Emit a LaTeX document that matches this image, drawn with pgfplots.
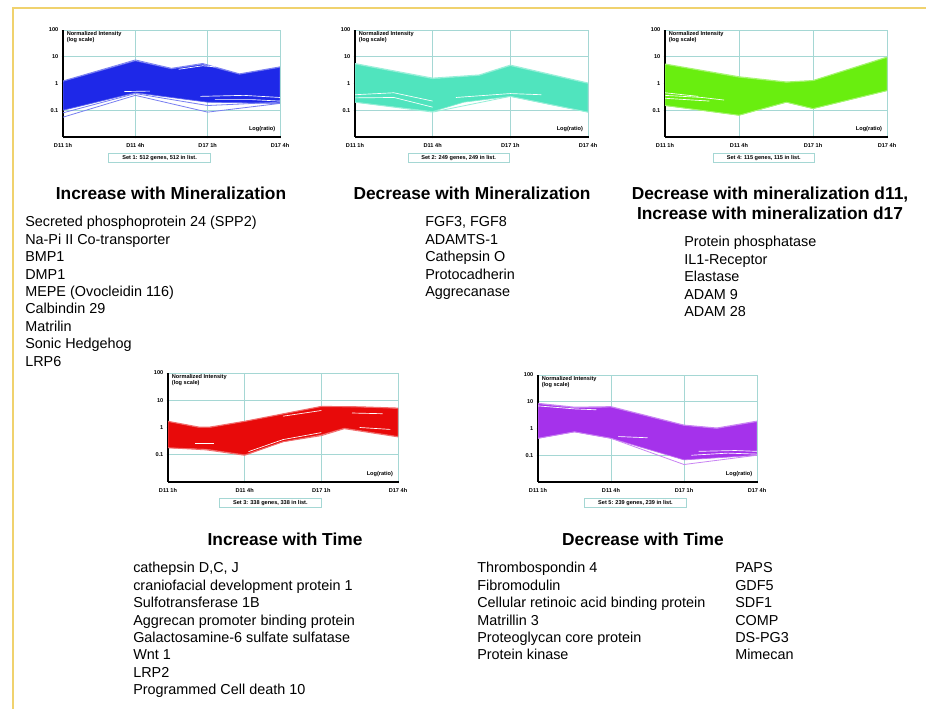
\documentclass[border=0pt]{standalone}
\usepackage{fontspec}
\setmainfont{Liberation Sans}
\usepackage{pgfplots}
\pgfplotsset{compat=1.18}
\definecolor{gridc}{RGB}{165,215,212}
\definecolor{borderc}{RGB}{240,210,110}
\definecolor{cblue}{RGB}{30,40,232}
\definecolor{caqua}{RGB}{80,228,190}
\definecolor{cgreen}{RGB}{105,238,15}
\definecolor{cred}{RGB}{232,10,10}
\definecolor{cpurple}{RGB}{165,50,235}
\newcommand\tinyfont{\fontsize{4.2}{4.7}\selectfont\bfseries}
\newcommand\listfont{\fontsize{10.8}{13}\selectfont}
\newcommand\titlefont{\fontsize{13}{15}\selectfont\bfseries}
\pgfkeys{/pgf/number format/assume math mode=true}
\pgfplotsset{
  every axis/.append style={
    scale only axis, ymode=log, ymin=0.01, ymax=100, xmin=0, xmax=3,
    clip mode=individual,
    axis lines=left, axis line style={black, line width=1.1pt, -},
    xtick={0,1,2,3}, xticklabels={D11 1h, D11 4h, D17 1h, D17 4h},
    ytick={0.1,1,10,100}, yticklabels={0.1,1,10,100},
    yminorticks=false,
    grid=major, major grid style={gridc, line width=0.6pt},
    tick style={black, line width=0.5pt}, major tick length=2pt,
    tick label style={font=\tinyfont},
    xticklabel style={yshift=0pt},
    yticklabel style={xshift=1pt},
  },
  cband/.style={fill=#1, draw=#1!70!white, line width=0.5pt},
  cedge/.style={draw=#1!60!white, line width=0.6pt, mark=none},
  cwl/.style={draw=white, line width=0.5pt, mark=none},
}
\newcommand\chartdeco[1]{%
  \node[anchor=north west, align=left, font=\tinyfont, inner sep=1pt] at (rel axis cs:0.01,1) {Normalized Intensity\\(log scale)};
  \node[anchor=south east, font=\tinyfont, inner sep=1pt] at (rel axis cs:0.985,0.03) {Log(ratio)};
  \node[draw=gridc, line width=0.6pt, fill=white, font=\tinyfont, minimum width=76pt, minimum height=7pt, inner sep=1pt, anchor=north] at (rel axis cs:0.445,-0.145) {#1};
}
\newcommand\lst[3]{%
  \foreach \t [count=\i from 0] in {#3} {\node[anchor=base west, inner sep=0, font=\listfont] at (#1, {709-#2-\i*17.4}) {\t};}}
\begin{document}
\begin{tikzpicture}
\begin{scope}[x=0.75pt,y=0.75pt]
\path[use as bounding box] (0,0) rectangle (926,709);
\fill[white] (0,0) rectangle (926,709);
\draw[borderc, line width=2pt] (13,0) -- (13,701) -- (926,701);
\end{scope}

% ---- Plot 1: blue
\begin{axis}[width=162.75pt, height=80.25pt, at={(47.25pt,429pt)}, anchor=south west]
\addplot[cband=cblue] coordinates {(0,1.2) (1,7) (1.5,3.5) (1.93,5.2) (2.44,2.2) (3,4) (3,0.18) (2.5,0.19) (2,0.2) (1.5,0.3) (1,0.45) (0,0.1)} -- cycle;
\addplot[cedge=cblue] coordinates {(0,0.055) (1,0.36) (2,0.085) (3,0.18)};
\addplot[cedge=cblue] coordinates {(0,0.08) (1,0.42) (2,0.15) (3,0.2)};
\addplot[cedge=cblue] coordinates {(0,1.25) (1,7.6) (1.5,3.7) (1.93,5.6) (2.44,2.3) (3,4.2)};
\addplot[cwl] coordinates {(0.85,0.5) (1.2,0.52)};
\addplot[cwl] coordinates {(1.9,0.33) (2.5,0.36) (3,0.3)};
\addplot[cwl] coordinates {(2.1,0.25) (2.6,0.25) (3,0.22)};
\addplot[cwl] coordinates {(1.6,3.4) (1.93,4.6) (2.1,4.2)};
\chartdeco{Set 1: 512 genes, 512 in list.}
\end{axis}

% ---- Plot 2: aqua
\begin{axis}[width=174.75pt, height=80.25pt, at={(266.25pt,429pt)}, anchor=south west]
\addplot[cband=caqua] coordinates {(0,5.3) (1,1.5) (1.6,2.0) (2,4.6) (3,1.0) (3,0.085) (2,0.33) (1.4,0.2) (1,0.09) (0,0.2)} -- cycle;
\addplot[cedge=caqua] coordinates {(0,5.6) (1,1.6) (1.6,2.1) (2,4.9) (3,1.05)};
\addplot[cedge=caqua] coordinates {(0,0.2) (1,0.085) (2,0.33) (3,0.085)};
\addplot[cwl] coordinates {(0,0.38) (0.5,0.45) (1,0.22)};
\addplot[cwl] coordinates {(0,0.29) (0.5,0.3) (1,0.13)};
\addplot[cwl] coordinates {(1.3,0.3) (2,0.42) (2.4,0.38)};
\chartdeco{Set 2: 249 genes, 249 in list.}
\end{axis}

% ---- Plot 3: green
\begin{axis}[width=166.5pt, height=80.25pt, at={(498.75pt,429pt)}, anchor=south west]
\addplot[cband=cgreen] coordinates {(0,5.2) (1,1.7) (1.64,1.1) (2,1.26) (3,9.4) (3,0.54) (2,0.115) (1.64,0.2) (1,0.065) (0,0.15)} -- cycle;
\addplot[cedge=cgreen] coordinates {(0,5.4) (1,1.8) (1.64,1.15) (2,1.3) (3,9.8)};
\addplot[cedge=cgreen] coordinates {(0,0.15) (1,0.065) (1.64,0.2) (2,0.115) (3,0.54)};
\addplot[cwl] coordinates {(0,0.45) (0.45,0.33)};
\addplot[cwl] coordinates {(0,0.36) (0.5,0.3) (0.8,0.24)};
\addplot[cwl] coordinates {(0,0.28) (0.6,0.22)};
\chartdeco{Set 4: 115 genes, 115 in list.}
\end{axis}

% ---- Plot 4: red
\begin{axis}[width=172.5pt, height=81.75pt, at={(126pt,170.25pt)}, anchor=south west]
\addplot[cband=cred] coordinates {(0,1.65) (0.4,1.0) (0.55,1.0) (1,1.65) (2,5.8) (2.5,5.6) (3,5.0) (3,0.47) (2.3,0.95) (2,0.54) (1.5,0.3) (1,0.1) (0.5,0.16) (0,0.18)} -- cycle;
\addplot[cedge=cred] coordinates {(0,1.7) (0.4,1.05) (0.55,1.05) (1,1.7) (2,6.0) (2.5,5.8) (3,5.2)};
\addplot[cedge=cred] coordinates {(0,0.18) (0.5,0.15) (1,0.095) (1.5,0.3) (2,0.5) (2.3,0.9) (3,0.45)};
\addplot[cwl] coordinates {(0.35,0.26) (0.6,0.26)};
\addplot[cwl] coordinates {(1.5,2.6) (2,4.2)};
\addplot[cwl] coordinates {(1.05,0.13) (1.5,0.36) (2,0.65)};
\addplot[cwl] coordinates {(2.4,3.4) (2.8,3.2)};
\addplot[cwl] coordinates {(2.5,1.0) (2.9,0.85)};
\chartdeco{Set 3: 338 genes, 338 in list.}
\end{axis}

% ---- Plot 5: purple
\begin{axis}[width=164.25pt, height=80.25pt, at={(403.5pt,170.25pt)}, anchor=south west]
\addplot[cband=cpurple] coordinates {(0,8.4) (0.5,6) (1,6.3) (2,1.3) (2.45,1.0) (3,1.8) (3,0.1) (2,0.067) (1,0.43) (0.5,0.75) (0,0.43)} -- cycle;
\addplot[cedge=cpurple] coordinates {(0,0.43) (0.5,0.75) (1,0.43) (2,0.045) (3,0.1)};
\addplot[cedge=cpurple] coordinates {(0,8.8) (0.5,6.3) (1,6.6) (2,1.35) (2.45,1.05) (3,1.9)};
\addplot[cwl] coordinates {(0,7) (0.5,5.4) (0.8,5)};
\addplot[cwl] coordinates {(2.2,0.14) (2.7,0.15) (3,0.14)};
\addplot[cwl] coordinates {(2.1,0.1) (2.6,0.12) (3,0.11)};
\addplot[cwl] coordinates {(1.1,0.5) (1.5,0.45)};
\chartdeco{Set 5: 239 genes, 239 in list.}
\end{axis}

\begin{scope}[x=0.75pt,y=0.75pt]
\node[font=\titlefont] at (171,516) {Increase with Mineralization};
\node[font=\titlefont] at (472,516) {Decrease with Mineralization};
\node[font=\titlefont, align=center] at (770,506) {Decrease with mineralization d11,\\Increase with mineralization d17};
\node[font=\titlefont] at (285,170) {Increase with Time};
\node[font=\titlefont] at (643,170) {Decrease with Time};
\lst{25}{227}{Secreted phosphoprotein 24 (SPP2), Na-Pi II Co-transporter, BMP1, DMP1, MEPE (Ovocleidin 116), Calbindin 29, Matrilin, Sonic Hedgehog, LRP6}
\lst{425}{227}{{FGF3, FGF8}, ADAMTS-1, Cathepsin O, Protocadherin, Aggrecanase}
\lst{684}{247}{Protein phosphatase, IL1-Receptor, Elastase, ADAM 9, ADAM 28}
\lst{133}{573}{{cathepsin D,C, J}, craniofacial development protein 1, Sulfotransferase 1B, Aggrecan promoter binding protein, Galactosamine-6 sulfate sulfatase, Wnt 1, LRP2, Programmed Cell death 10}
\lst{477}{573}{Thrombospondin 4, Fibromodulin, Cellular retinoic acid binding protein, Matrillin 3, Proteoglycan core protein, Protein kinase}
\lst{735}{573}{PAPS, GDF5, SDF1, COMP, DS-PG3, Mimecan}
\end{scope}
\end{tikzpicture}
\end{document}
